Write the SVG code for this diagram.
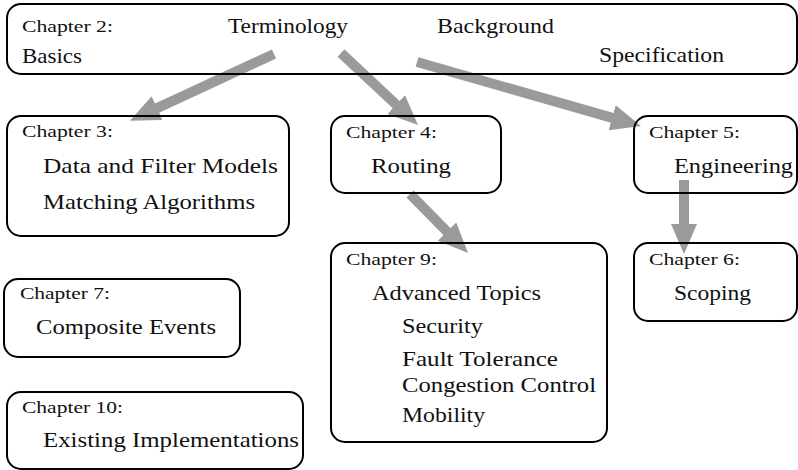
<svg xmlns="http://www.w3.org/2000/svg" width="798" height="470" viewBox="0 0 798 470">
  <style>
    .box { fill: none; stroke: #000; stroke-width: 2; }
    .ch { font-family: "Liberation Serif", "DejaVu Serif", "Times New Roman", serif; font-size: 17px; fill: #111; }
    .t { font-family: "Liberation Serif", "DejaVu Serif", "Times New Roman", serif; font-size: 22px; fill: #111; }
    .arr { stroke: #9a9a9a; stroke-width: 10; fill: none; marker-end: url(#head); }
  </style>
  <defs>
    <marker id="head" viewBox="0 0 3 2.6" refX="0.3" refY="1.3" markerWidth="3" markerHeight="2.6" orient="auto" markerUnits="strokeWidth">
      <path d="M0,0 L3,1.3 L0,2.6 Z" fill="#9a9a9a"/>
    </marker>
  </defs>

  <!-- dependency arrows between chapters -->
  <g id="connectors">
    <line class="arr" x1="274" y1="54" x2="154.4" y2="109.4"/>
    <line class="arr" x1="341" y1="53" x2="398.3" y2="106.6"/>
    <line class="arr" x1="417" y1="62" x2="615" y2="118.6"/>
    <line class="arr" x1="410" y1="194" x2="449.1" y2="233.7"/>
    <line class="arr" x1="684" y1="180" x2="684" y2="227"/>
  </g>

  <g id="ch2">
    <rect class="box" x="7" y="4" width="790" height="70" rx="14"/>
    <text class="ch" x="22" y="32" textLength="91" lengthAdjust="spacingAndGlyphs">Chapter 2:</text>
    <text class="t" x="228" y="33" textLength="120" lengthAdjust="spacingAndGlyphs">Terminology</text>
    <text class="t" x="437" y="33" textLength="117" lengthAdjust="spacingAndGlyphs">Background</text>
    <text class="t" x="22" y="63" textLength="60" lengthAdjust="spacingAndGlyphs">Basics</text>
    <text class="t" x="599" y="62" textLength="125" lengthAdjust="spacingAndGlyphs">Specification</text>
  </g>

  <g id="ch3">
    <rect class="box" x="7" y="116" width="282" height="120" rx="14"/>
    <text class="ch" x="22" y="137" textLength="91" lengthAdjust="spacingAndGlyphs">Chapter 3:</text>
    <text class="t" x="43" y="173" textLength="235" lengthAdjust="spacingAndGlyphs">Data and Filter Models</text>
    <text class="t" x="43" y="209" textLength="212" lengthAdjust="spacingAndGlyphs">Matching Algorithms</text>
  </g>

  <g id="ch4">
    <rect class="box" x="331" y="116" width="170" height="77" rx="14"/>
    <text class="ch" x="346" y="138" textLength="91" lengthAdjust="spacingAndGlyphs">Chapter 4:</text>
    <text class="t" x="371" y="173" textLength="80" lengthAdjust="spacingAndGlyphs">Routing</text>
  </g>

  <g id="ch5">
    <rect class="box" x="634" y="116" width="163" height="77" rx="14"/>
    <text class="ch" x="649" y="138" textLength="91" lengthAdjust="spacingAndGlyphs">Chapter 5:</text>
    <text class="t" x="674" y="173" textLength="119" lengthAdjust="spacingAndGlyphs">Engineering</text>
  </g>

  <g id="ch9">
    <rect class="box" x="331" y="243" width="276" height="199" rx="14"/>
    <text class="ch" x="346" y="265" textLength="91" lengthAdjust="spacingAndGlyphs">Chapter 9:</text>
    <text class="t" x="372" y="300" textLength="169" lengthAdjust="spacingAndGlyphs">Advanced Topics</text>
    <text class="t" x="402" y="333" textLength="81" lengthAdjust="spacingAndGlyphs">Security</text>
    <text class="t" x="402" y="366" textLength="156" lengthAdjust="spacingAndGlyphs">Fault Tolerance</text>
    <text class="t" x="402" y="392" textLength="194" lengthAdjust="spacingAndGlyphs">Congestion Control</text>
    <text class="t" x="402" y="422" textLength="83" lengthAdjust="spacingAndGlyphs">Mobility</text>
  </g>

  <g id="ch6">
    <rect class="box" x="634" y="243" width="163" height="78" rx="14"/>
    <text class="ch" x="649" y="265" textLength="91" lengthAdjust="spacingAndGlyphs">Chapter 6:</text>
    <text class="t" x="674" y="300" textLength="77" lengthAdjust="spacingAndGlyphs">Scoping</text>
  </g>

  <g id="ch7">
    <rect class="box" x="4" y="279" width="236" height="78" rx="14"/>
    <text class="ch" x="20" y="299" textLength="90" lengthAdjust="spacingAndGlyphs">Chapter 7:</text>
    <text class="t" x="36" y="334" textLength="180" lengthAdjust="spacingAndGlyphs">Composite Events</text>
  </g>

  <g id="ch10">
    <rect class="box" x="7" y="392" width="296" height="77" rx="14"/>
    <text class="ch" x="22" y="413" textLength="101" lengthAdjust="spacingAndGlyphs">Chapter 10:</text>
    <text class="t" x="43" y="447" textLength="256" lengthAdjust="spacingAndGlyphs">Existing Implementations</text>
  </g>
</svg>
